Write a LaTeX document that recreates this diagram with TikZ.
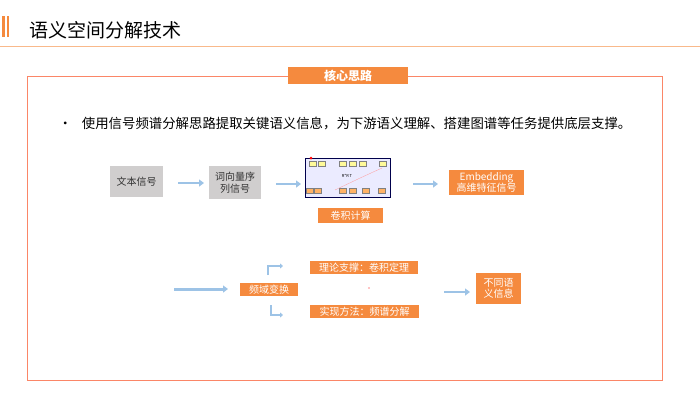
\documentclass[tikz,border=0pt]{standalone}
\usepackage{fontspec}
\setmainfont{Noto Sans CJK SC}
\usetikzlibrary{arrows.meta}
\definecolor{og}{HTML}{F58A3E}
\definecolor{ab}{HTML}{9DC3E6}
\definecolor{gr}{HTML}{D0CECE}
\begin{document}
\begin{tikzpicture}[x=1pt,y=-1pt,
  obox/.style={fill=og,text=white,inner sep=0pt,font=\fontsize{10}{11}\selectfont,align=center},
  gbox/.style={fill=gr,text=black!80,inner sep=0pt,font=\fontsize{10}{12}\selectfont,align=center},
  barr/.style={draw=ab,line width=2.5pt,-{Triangle[length=5pt,width=7pt]}}]
\useasboundingbox (0,0) rectangle (700,416);
\fill[og] (2,16) rectangle (5,37);
\fill[og] (7,16) rectangle (9,37);
\node[anchor=west,font=\fontsize{19}{21}\selectfont] (title) at (26,30) {语义空间分解技术};
\draw[og!60,line width=0.6pt] (0,46) -- (700,46);
\draw[og!60!red!70,line width=0.8pt] (27,76) rectangle (662,380);
\node[obox,minimum width=120pt,minimum height=17pt,font=\fontsize{12}{13}\selectfont\bfseries] (tag) at (348,75.5) {核心思路};
\node[anchor=west,font=\fontsize{13.4}{15}\selectfont] (bullet) at (55,124) {•\hspace{10pt}使用信号频谱分解思路提取关键语义信息，为下游语义理解、搭建图谱等任务提供底层支撑。};
\node[gbox,minimum width=53pt,minimum height=31pt] (a) at (136.5,181.5) {文本信号};
\node[gbox,minimum width=52pt,minimum height=33pt] (b) at (235,182.5) {词向量序\\列信号};
\node[draw=blue!30!black,line width=1pt,fill=blue!8,minimum width=85pt,minimum height=39pt,inner sep=0pt] (img) at (347.5,177.5) {};
\node[font=\fontsize{4}{5}\selectfont] (imgt) at (347,176) {R*R T};
\foreach \xx in {313,322,343,353,363,383}{\node[fill=yellow!40,draw=gray,minimum width=7pt,minimum height=5pt,inner sep=0pt] at (\xx,164){};}
\foreach \xx in {310,318,343,353,366,382}{\node[fill=orange!60,draw=gray,minimum width=7pt,minimum height=5pt,inner sep=0pt] at (\xx,191){};}
\draw[red!40,line width=0.3pt] (335,190) .. controls (360,178) .. (382,168);
\fill[red] (311,158) circle (1.5pt);
\node[obox,minimum width=65pt,minimum height=15pt] (c) at (350.5,215.5) {卷积计算};
\node[obox,minimum width=75pt,minimum height=25pt] (d) at (486.5,182.5) {Embedding\\高维特征信号};
\coordinate (a1) at (178,183); \coordinate (a2) at (204,183);
\coordinate (b1) at (276,184); \coordinate (b2) at (301,184);
\coordinate (c1) at (413,184); \coordinate (c2) at (438,184);
\draw[barr] (a1) -- (a2);
\draw[barr] (b1) -- (b2);
\draw[barr] (c1) -- (c2);
\node[obox,minimum width=58pt,minimum height=13pt] (e) at (269,289.5) {频域变换};
\coordinate (s1) at (174,289); \coordinate (s2) at (228,289);
\draw[barr,line width=3pt] (s1) -- (s2);
\node[obox,minimum width=108pt,minimum height=13pt] (f) at (364,267.5) {理论支撑：卷积定理};
\node[obox,minimum width=109pt,minimum height=13pt] (g) at (364.5,311.5) {实现方法：频谱分解};
\draw[draw=ab,line width=2pt,-{Triangle[length=3pt,width=5pt]}] (268,275) |- (283,266);
\draw[draw=ab,line width=2pt,-{Triangle[length=3pt,width=5pt]}] (271,305) |- (283,315);
\fill[red] (369,288) circle (0.6pt);
\node[obox,minimum width=45pt,minimum height=31pt] (h) at (498.5,288.5) {不同语\\义信息};
\coordinate (h1) at (444,292); \coordinate (h2) at (470,292);
\draw[barr] (h1) -- (h2);
\end{tikzpicture}
\end{document}
